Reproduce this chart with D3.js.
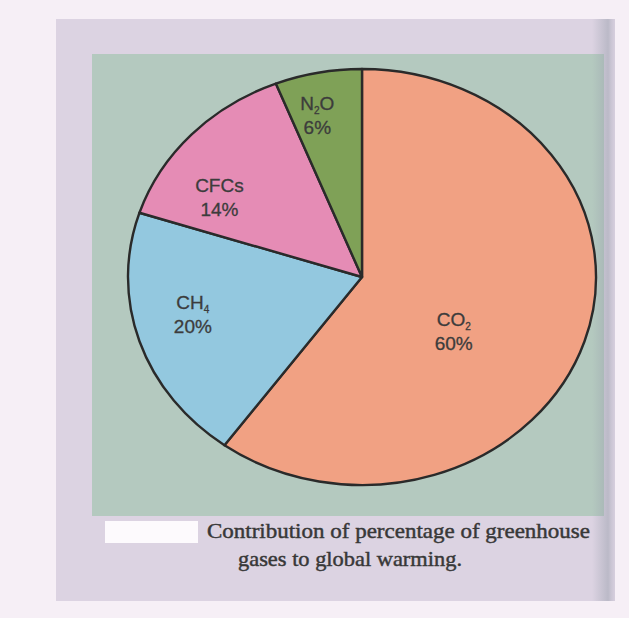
<!DOCTYPE html>
<html>
<head>
<meta charset="utf-8">
<script src="https://cdn.jsdelivr.net/npm/d3@7"></script>
<style>
  html, body { margin: 0; padding: 0; background: #f6eff6; }
  svg { display: block; }
</style>
</head>
<body>
<svg id="chart" width="629" height="618"></svg>
<script>
// Greenhouse gas shares of global warming (percent)
const gases = ["CO2", "CH4", "CFCs", "N2O"];
const shares = [60, 20, 14, 6];
// Chemical formula pieces: [text, isSubscript]
const formulas = [
  [["CO", false], ["2", true]],
  [["CH", false], ["4", true]],
  [["CFCs", false]],
  [["N", false], ["2", true], ["O", false]]
];
const sliceColors = ["#f1a183", "#93c8df", "#e58cb5", "#7fa157"];
const captionLines = [
  "Contribution of percentage of greenhouse",
  "gases to global warming."
];

const svg = d3.select("#chart");

// Page and panel backgrounds
const defs = svg.append("defs");
const shade = defs.append("linearGradient").attr("id", "edgeShade")
  .attr("x1", "0%").attr("x2", "100%");
shade.append("stop").attr("offset", "0%").attr("stop-color", "#9aa0ad").attr("stop-opacity", 0);
shade.append("stop").attr("offset", "70%").attr("stop-color", "#9aa0ad").attr("stop-opacity", 0.5);
shade.append("stop").attr("offset", "100%").attr("stop-color", "#c9c3d2").attr("stop-opacity", 0.3);

svg.append("rect").attr("x", 56).attr("y", 19).attr("width", 559).attr("height", 582)
  .attr("fill", "#dcd3e2");
svg.append("rect").attr("x", 92).attr("y", 54).attr("width", 512).attr("height", 462)
  .attr("fill", "#b4c9bf");
svg.append("rect").attr("x", 592).attr("y", 19).attr("width", 23).attr("height", 582)
  .attr("fill", "url(#edgeShade)");

// Pie geometry (slightly elliptical)
const cx = 362, cy = 277, rx = 234, ry = 208;

const pie = d3.pie().sort(null).value(d => d).startAngle(0).endAngle(2 * Math.PI);
const arcs = pie(shares);
const arc = d3.arc().innerRadius(0).outerRadius(ry);

const pieG = svg.append("g")
  .attr("transform", `translate(${cx},${cy}) scale(${rx / ry},1)`);

pieG.selectAll("path.slice")
  .data(arcs)
  .join("path")
  .attr("class", "slice")
  .attr("d", arc)
  .attr("fill", (d, i) => sliceColors[i])
  .attr("stroke", "#2a2a2a")
  .attr("stroke-width", 2.4)
  .attr("stroke-linejoin", "round")
  .attr("vector-effect", "non-scaling-stroke");

// Label placement inside each slice: radius fraction and angular nudge (degrees)
const labelPlace = {
  CO2: { r: 0.47, nudge: 15.5 },
  CH4: { r: 0.745, nudge: 4 },
  CFCs: { r: 0.72, nudge: -11 },
  N2O: { r: 0.80, nudge: -3 }
};

const labelG = svg.append("g")
  .attr("font-family", "'Liberation Sans', Arial, sans-serif")
  .attr("font-size", 19)
  .attr("fill", "#3c3c3c")
  .attr("stroke", "#3c3c3c")
  .attr("stroke-width", 0.3)
  .attr("text-anchor", "middle");

arcs.forEach((d, i) => {
  const p = labelPlace[gases[i]];
  const a = (d.startAngle + d.endAngle) / 2 + p.nudge * Math.PI / 180;
  const x = cx + rx * p.r * Math.sin(a);
  const y = cy - ry * p.r * Math.cos(a);

  const t1 = labelG.append("text").attr("x", x).attr("y", y - 12 + 7);
  formulas[i].forEach(([txt, sub]) => {
    const ts = t1.append("tspan").text(txt);
    if (sub) ts.attr("font-size", 10).attr("dy", 4);
    else if (t1.selectAll("tspan").size() > 1) ts.attr("dy", -4);
  });

  labelG.append("text")
    .attr("x", x)
    .attr("y", y + 12 + 7)
    .text(shares[i] + "%");
});

// Caption block
svg.append("rect").attr("x", 105).attr("y", 521).attr("width", 93).attr("height", 22)
  .attr("fill", "#fdfafd");

const capG = svg.append("g")
  .attr("font-family", "'Liberation Serif', 'Times New Roman', serif")
  .attr("font-size", 21.5)
  .attr("fill", "#383838")
  .attr("stroke", "#383838")
  .attr("stroke-width", 0.45);

capG.append("text").attr("x", 207).attr("y", 538)
  .attr("textLength", 383).attr("lengthAdjust", "spacingAndGlyphs")
  .text(captionLines[0]);
capG.append("text").attr("x", 238).attr("y", 566)
  .attr("textLength", 224).attr("lengthAdjust", "spacingAndGlyphs")
  .text(captionLines[1]);
</script>
</body>
</html>
